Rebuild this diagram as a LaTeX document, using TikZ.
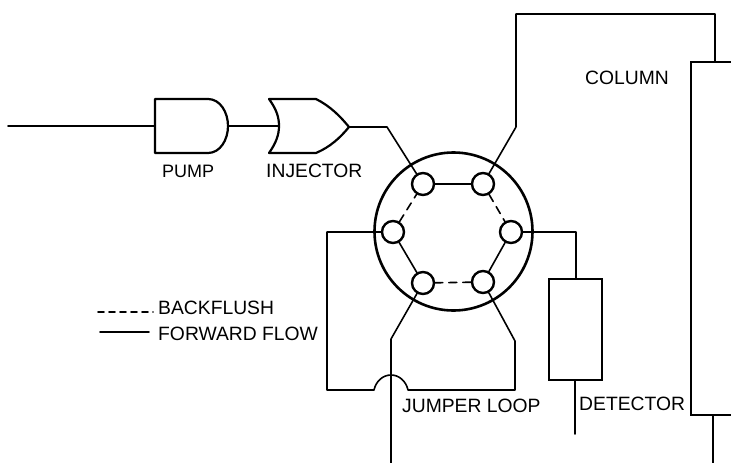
\documentclass[tikz,border=0pt]{standalone}
\usepackage{fontspec}
\setmainfont{Liberation Sans}
\tikzset{
  pipe/.style={line width=1.6pt,line join=round,line cap=round},
  backflush/.style={pipe,dash pattern=on 8pt off 6pt},
  wall/.style={line width=2.2pt,line join=round},
  port/.style={circle,draw,line width=2.4pt,minimum size=22pt,inner sep=0pt,fill=white},
  lab/.style={font=\fontsize{19.3}{21}\selectfont,inner sep=0pt,anchor=base west},
  anchorpt/.style={inner sep=0pt,minimum size=0pt}
}
\begin{document}
\begin{tikzpicture}[x=1pt,y=-1pt]
\useasboundingbox (0,0) rectangle (731,463);
% pump
\draw[wall] (155,99) -- (208,99) .. controls (220,99) and (228,112) .. (228,126)
  .. controls (228,140) and (220,153) .. (208,153) -- (155,153) -- cycle;
\node[anchorpt] (pumpin) at (155,126) {};
\node[anchorpt] (pumpout) at (228,126) {};
% injector
\draw[wall] (269,99) .. controls (277,110) and (279,118) .. (279,126)
  .. controls (279,135) and (276,143) .. (269,153) -- (316,153)
  .. controls (330,147) and (340,138) .. (349,127)
  .. controls (340,116) and (330,106) .. (316,99) -- cycle;
\node[anchorpt] (injin) at (279,126) {};
\node[anchorpt] (injout) at (349,127) {};
\coordinate (src) at (8,126);
\draw[pipe] (src) -- (pumpin);
\draw[pipe] (pumpout) -- (injin);
% valve
\node[circle,draw,line width=2.6pt,minimum size=158pt,inner sep=0pt] (valve) at (453.5,231.5) {};
\node[port] (p1) at (423,184) {};
\node[port] (p2) at (483,184) {};
\node[port] (p3) at (511,232) {};
\node[port] (p4) at (483,282) {};
\node[port] (p5) at (423,283) {};
\node[port] (p6) at (393,232) {};
\draw[pipe] (p1) -- (p2);
\draw[backflush] (p2) -- (p3);
\draw[pipe] (p3) -- (p4);
\draw[backflush] (p4) -- (p5);
\draw[pipe] (p5) -- (p6);
\draw[backflush] (p6) -- (p1);
% column and detector
\node[draw,line width=2.2pt,minimum width=60pt,minimum height=353pt,inner sep=0pt] (column) at (721,238.5) {};
\node[draw,line width=2.2pt,minimum width=53pt,minimum height=101pt,inner sep=0pt] (detector) at (575.5,329.5) {};
\coordinate (a1) at (387,127);
\coordinate (b1) at (516,127);
\coordinate (b2) at (516,14);
\coordinate (b3) at (715,14);
\coordinate (b4) at (715,62);
\coordinate (c1) at (576,232);
\coordinate (c2) at (576,279);
\coordinate (d1) at (575,380);
\coordinate (d2) at (575,434);
\coordinate (e1) at (327,232);
\coordinate (e2) at (327,390);
\coordinate (e3) at (374,390);
\coordinate (e4) at (408,390);
\coordinate (e5) at (515,390);
\coordinate (e6) at (515,341);
\coordinate (f1) at (391,339);
\coordinate (f2) at (391,463);
\coordinate (g1) at (713,415);
\coordinate (g2) at (713,463);
\draw[pipe] (injout) -- (a1) -- (p1);
\draw[pipe] (p2) -- (b1) -- (b2) -- (b3) -- (b4);
\draw[pipe] (p3) -- (c1) -- (c2);
\draw[pipe] (d1) -- (d2);
\draw[pipe] (p6) -- (e1) -- (e2) -- (e3) .. controls (376,381) and (383,375) .. (391,375)
  .. controls (399,375) and (406,381) .. (e4) -- (e5) -- (e6) -- (p4);
\draw[pipe] (p5) -- (f1) -- (f2);
\draw[pipe] (g1) -- (g2);
% labels
\node[lab] (tcol) at (585,84) {COLUMN};
\node[lab,font=\fontsize{18}{20}\selectfont] (tpump) at (162,177) {PUMP};
\node[lab] (tinj) at (266,177) {INJECTOR};
\node[lab] (tdet) at (579,410) {DETECTOR};
\node[lab] (tjump) at (402,412.5) {JUMPER LOOP};
\node[lab] (tback) at (158,314) {BACKFLUSH};
\node[lab] (tfor) at (158,340) {FORWARD FLOW};
\coordinate (l1) at (98,312);
\coordinate (l2) at (153,312);
\coordinate (l3) at (100,332);
\coordinate (l4) at (149,332);
\draw[pipe,dash pattern=on 6pt off 5pt] (l1) -- (l2);
\draw[pipe] (l3) -- (l4);
\end{tikzpicture}
\end{document}
